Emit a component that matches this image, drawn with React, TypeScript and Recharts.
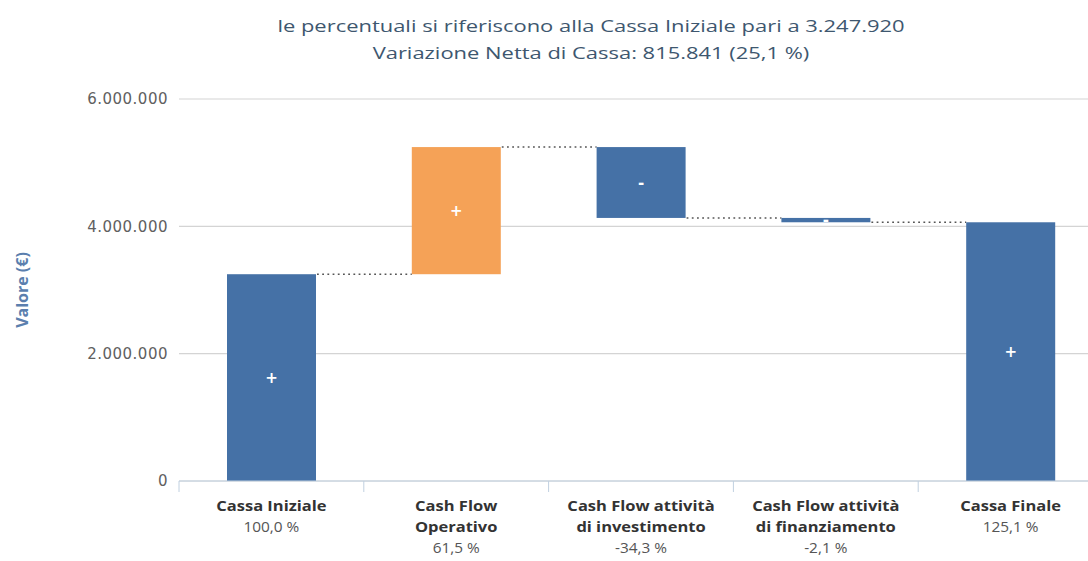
import React from 'react';
import { BarChart, Bar, XAxis, YAxis, CartesianGrid, Cell } from 'recharts';

// ---- data ----
const categories = ['Cassa Iniziale', 'Cash Flow Operativo', 'Cash Flow attività di investimento', 'Cash Flow attività di finanziamento', 'Cassa Finale'];
const labelLines: string[][] = [
  ['Cassa Iniziale'],
  ['Cash Flow', 'Operativo'],
  ['Cash Flow attività', 'di investimento'],
  ['Cash Flow attività', 'di finanziamento'],
  ['Cassa Finale'],
];
const percentLabels = ['100,0 %', '61,5 %', '-34,3 %', '-2,1 %', '125,1 %'];
const cassaIniziale = 3247920;
const flows = [1997000, -1113000, -68159]; // operativo, investimento, finanziamento
const isTotal = [true, false, false, false, true];
const barColors = ['#4571A6', '#F5A257', '#4571A6', '#4571A6', '#4571A6'];
const yTicks = [0, 2000000, 4000000, 6000000];
const titleLines = [
  'le percentuali si riferiscono alla Cassa Iniziale pari a 3.247.920',
  'Variazione Netta di Cassa: 815.841 (25,1 %)',
];

// build waterfall table
const data = (() => {
  const rows: any[] = [];
  let running = cassaIniziale;
  rows.push({ name: categories[0], range: [0, cassaIniziale], end: cassaIniziale, delta: cassaIniziale });
  flows.forEach((f, i) => {
    const start = running;
    running += f;
    rows.push({ name: categories[i + 1], range: [Math.min(start, running), Math.max(start, running)], end: running, delta: f });
  });
  rows.push({ name: categories[4], range: [0, running], end: running, delta: running });
  return rows.map((r, i) => ({ ...r, idx: i, total: isTotal[i] }));
})();

// ---- layout ----
const CHART_W = 1108;
const CHART_H = 561;
const MARGIN = { top: 99, right: 5, left: 0, bottom: 0 };
const Y_AXIS_W = 179;
const BAR_SIZE = 89;
const BAND = (CHART_W - MARGIN.left - MARGIN.right - Y_AXIS_W) / categories.length;
const STRETCH = 1.1;

const fmt = (v: number) => v.toLocaleString('de-DE');

const WaterfallShape = (props: any) => {
  const { x, y, width, height, payload, index, fill } = props;
  const endY = payload.delta >= 0 ? y : y + height;
  const sign = payload.delta >= 0 ? '+' : '-';
  const hasNext = index < data.length - 1;
  return (
    <g>
      <rect x={x} y={y} width={width} height={Math.max(height, 1)} fill={fill} />
      {hasNext && (
        <line
          x1={x + width + 1}
          x2={x + BAND}
          y1={endY}
          y2={endY}
          stroke="#555"
          strokeWidth={1.6}
          strokeDasharray="1.8 3.4"
        />
      )}
      <text
        x={x + width / 2}
        y={y + height / 2}
        dy={5}
        textAnchor="middle"
        fill="#fff"
        fontSize={15}
        fontWeight="bold"
        fontFamily="'DejaVu Sans', sans-serif"
      >
        {sign}
      </text>
    </g>
  );
};

const XTick = (props: any) => {
  const { x, y, index } = props;
  const lines = labelLines[index];
  const left = x - BAND / 2;
  return (
    <g>
      <line x1={left} x2={left} y1={y - 8} y2={y + 3} stroke="#C0D0E0" strokeWidth={1} />
      <text
        textAnchor="middle"
        fontFamily="'Open Sans', sans-serif"
        fontSize={15}
        transform={`translate(${x} 0) scale(${STRETCH} 1) translate(${-x} 0)`}
      >
        {lines.map((l, i) => (
          <tspan key={i} x={x} y={y + 22 + i * 21} fontWeight="bold" fill="#333">
            {l}
          </tspan>
        ))}
        <tspan x={x} y={y + 22 + lines.length * 21} fill="#555" fontSize={14}>
          {percentLabels[index]}
        </tspan>
      </text>
    </g>
  );
};

const YLabel = (props: any) => {
  const { viewBox } = props;
  const cx = viewBox.x + 22;
  const cy = viewBox.y + viewBox.height / 2;
  return (
    <text
      x={cx}
      y={cy}
      transform={`rotate(-90, ${cx}, ${cy})`}
      textAnchor="middle"
      dominantBaseline="central"
      fill="#5B7FAE"
      fontSize={16}
      fontWeight="bold"
      fontFamily="'Open Sans', sans-serif"
    >
      Valore (€)
    </text>
  );
};

export default function App() {
  return (
    <div style={{ position: 'absolute', left: 0, top: 0, width: 1088, height: 561, overflow: 'hidden', background: '#fff' }}>
      <div
        style={{
          position: 'absolute',
          left: 0,
          width: 1182,
          top: 12,
          textAlign: 'center',
          fontFamily: "'Open Sans', sans-serif",
          fontSize: 17,
          lineHeight: '27px',
          color: '#3E576F',
          transform: 'scaleX(1.29)',
          transformOrigin: '591px 0',
        }}
      >
        {titleLines.map((t, i) => (
          <div key={i}>{t}</div>
        ))}
      </div>
      <div style={{ position: 'absolute', left: 0, top: 0 }}>
        <BarChart width={CHART_W} height={CHART_H} data={data} margin={MARGIN} barSize={BAR_SIZE}>
          <CartesianGrid vertical={false} stroke="#D4D4D4" strokeWidth={1.2} />
          <XAxis
            dataKey="name"
            height={80}
            axisLine={{ stroke: '#C0D0E0', strokeWidth: 1 }}
            tickLine={false}
            interval={0}
            tick={<XTick />}
          />
          <YAxis
            width={Y_AXIS_W}
            domain={[0, 6000000]}
            ticks={yTicks}
            axisLine={false}
            tickLine={false}
            tickSize={0}
            tickMargin={11}
            tickFormatter={fmt}
            tick={{ fill: '#606060', fontSize: 15, letterSpacing: 0.5, fontFamily: "'DejaVu Sans', sans-serif" }}
            label={<YLabel />}
          />
          <Bar dataKey="range" isAnimationActive={false} shape={<WaterfallShape />}>
            {data.map((d, i) => (
              <Cell key={i} fill={barColors[i]} />
            ))}
          </Bar>
        </BarChart>
      </div>
    </div>
  );
}
